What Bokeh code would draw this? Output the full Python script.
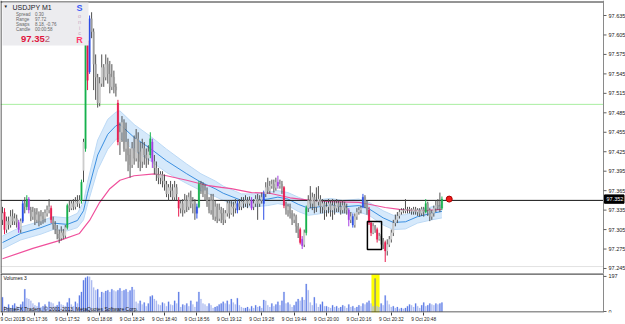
from bokeh.plotting import figure
from bokeh.models import (Range1d, FixedTicker, BoxAnnotation, Label,
                          ColumnDataSource, AllLabels)
from bokeh.core.properties import value
from bokeh.layouts import column
from bokeh.embed import file_html
from bokeh.resources import INLINE

# ---------------- data (prices in points above 97.000) ----------------
SYMBOL = "USDJPY"
TIMEFRAME = "M1"
BASE = 97.0
info_rows = [("Spread", "0.30"), ("Range", "97.72"), ("Swaps", "8.18, -0.76"), ("Candle", "00:00:58")]

open_pts = [
    320, 332, 305, 318, 312, 325, 318, 322, 316, 305,
    318, 345, 340, 352, 335, 325, 332, 320, 328, 318,
    325, 322, 330, 335, 338, 320, 312, 306, 298, 292,
    300, 296, 308, 342, 338, 345, 340, 348, 345, 350,
    396, 430, 596, 548, 630, 610, 560, 540, 500, 530,
    555, 540, 560, 545, 525, 540, 525, 500, 440, 455,
    470, 430, 440, 420, 405, 430, 415, 445, 425, 410,
    430, 420, 415, 420, 440, 410, 400, 390, 385, 390,
    380, 375, 360, 370, 365, 355, 370, 350, 338, 345,
    335, 350, 340, 355, 345, 348, 330, 340, 375, 370,
    360, 365, 345, 335, 350, 325, 340, 322, 335, 330,
    320, 330, 345, 330, 340, 338, 335, 345, 340, 348,
    345, 350, 345, 350, 340, 345, 352, 345, 350, 345,
    360, 370, 365, 372, 375, 370, 378, 372, 375, 370,
    342, 335, 340, 330, 320, 325, 310, 305, 290, 282,
    300, 338, 350, 345, 355, 340, 348, 352, 340, 345,
    335, 340, 345, 335, 342, 338, 345, 340, 335, 342,
    338, 335, 320, 325, 312, 325, 332, 335, 340, 355,
    345, 335, 315, 300, 310, 305, 290, 295, 288, 285,
    272, 282, 290, 300, 315, 320, 326, 332, 335, 334,
    336, 335, 336, 333, 336, 332, 335, 330, 336, 332,
    345, 335, 325, 330, 338, 342, 340, 338]
high_pts = [
    340, 338, 325, 325, 335, 336, 330, 328, 320, 322,
    350, 355, 358, 355, 340, 340, 338, 338, 333, 335,
    332, 336, 342, 352, 342, 325, 318, 312, 305, 310,
    306, 312, 345, 350, 350, 352, 355, 358, 358, 382,
    445, 600, 625, 635, 640, 615, 575, 545, 540, 575,
    560, 575, 570, 565, 560, 550, 530, 505, 470, 480,
    475, 470, 445, 430, 440, 450, 460, 455, 440, 445,
    440, 430, 435, 455, 445, 420, 410, 400, 395, 395,
    390, 380, 375, 380, 375, 380, 375, 355, 350, 352,
    360, 358, 362, 365, 355, 352, 345, 380, 380, 378,
    375, 370, 355, 360, 360, 350, 345, 345, 340, 338,
    335, 350, 350, 350, 348, 352, 350, 352, 355, 355,
    358, 355, 356, 355, 352, 358, 360, 358, 362, 365,
    378, 385, 380, 382, 382, 385, 388, 382, 380, 372,
    348, 345, 345, 335, 330, 328, 315, 308, 295, 305,
    342, 358, 372, 362, 360, 370, 372, 358, 352, 350,
    348, 352, 350, 352, 350, 352, 350, 348, 350, 348,
    345, 338, 332, 330, 330, 338, 340, 342, 360, 358,
    350, 340, 318, 315, 312, 308, 300, 298, 292, 288,
    290, 295, 305, 320, 328, 332, 336, 338, 338, 352,
    340, 340, 338, 340, 340, 338, 338, 340, 340, 352,
    348, 338, 335, 342, 350, 352, 362, 356]
low_pts = [
    312, 298, 300, 305, 308, 312, 312, 308, 300, 300,
    315, 330, 335, 330, 318, 320, 312, 315, 310, 312,
    314, 316, 325, 330, 315, 305, 298, 290, 284, 288,
    290, 292, 305, 332, 335, 335, 336, 340, 338, 345,
    378, 425, 520, 545, 600, 520, 505, 493, 495, 525,
    525, 535, 530, 515, 520, 515, 510, 435, 420, 440,
    425, 410, 395, 385, 400, 405, 410, 400, 395, 400,
    405, 400, 405, 415, 400, 390, 380, 375, 375, 370,
    365, 355, 350, 355, 350, 350, 350, 325, 330, 325,
    330, 332, 335, 338, 330, 320, 322, 338, 360, 355,
    350, 340, 330, 328, 320, 318, 315, 318, 315, 312,
    315, 325, 322, 328, 325, 330, 330, 335, 335, 338,
    340, 338, 342, 335, 335, 340, 320, 340, 345, 320,
    355, 360, 360, 368, 362, 365, 368, 368, 360, 338,
    328, 325, 322, 312, 315, 300, 292, 282, 275, 278,
    296, 332, 338, 335, 330, 332, 342, 330, 330, 320,
    325, 330, 325, 320, 328, 332, 332, 328, 330, 330,
    328, 310, 315, 308, 308, 320, 328, 330, 338, 338,
    328, 312, 295, 298, 300, 285, 288, 282, 275, 255,
    265, 278, 285, 295, 310, 315, 322, 328, 330, 330,
    330, 330, 328, 328, 328, 326, 325, 326, 325, 330,
    326, 318, 320, 325, 332, 335, 332, 335]
close_pts = [
    330, 305, 318, 312, 325, 318, 322, 316, 305, 318,
    345, 340, 352, 335, 325, 332, 320, 328, 318, 325,
    322, 330, 335, 340, 320, 312, 306, 298, 292, 300,
    296, 308, 342, 338, 345, 340, 348, 345, 350, 378,
    440, 590, 535, 630, 610, 560, 540, 500, 530, 555,
    540, 560, 545, 525, 540, 525, 520, 440, 455, 470,
    430, 440, 420, 405, 430, 415, 445, 425, 410, 430,
    420, 415, 425, 445, 410, 400, 390, 385, 390, 380,
    375, 360, 370, 365, 355, 370, 360, 338, 345, 335,
    350, 340, 355, 345, 348, 330, 340, 375, 370, 360,
    365, 345, 335, 350, 325, 340, 322, 335, 330, 320,
    330, 345, 330, 340, 338, 345, 345, 340, 348, 345,
    350, 345, 350, 338, 345, 352, 345, 350, 355, 360,
    370, 365, 372, 375, 370, 378, 372, 375, 370, 342,
    335, 340, 330, 320, 325, 310, 300, 285, 280, 300,
    338, 350, 345, 355, 340, 348, 352, 340, 345, 335,
    340, 345, 335, 342, 338, 345, 340, 335, 342, 338,
    335, 320, 325, 312, 325, 332, 335, 338, 355, 345,
    335, 315, 300, 310, 305, 290, 295, 288, 282, 272,
    282, 290, 300, 315, 320, 326, 332, 335, 334, 336,
    335, 336, 333, 336, 332, 335, 330, 336, 332, 345,
    335, 325, 330, 338, 342, 340, 338, 352]
volume = [
    80, 30, 25, 40, 20, 35, 45, 30, 25, 40,
    55, 125, 75, 70, 60, 45, 35, 30, 50, 25,
    30, 40, 25, 55, 50, 45, 30, 35, 55, 40,
    35, 30, 50, 75, 40, 30, 55, 45, 90, 110,
    175, 190, 197, 195, 175, 135, 120, 125, 80, 110,
    105, 115, 120, 110, 125, 118, 112, 120, 130, 115,
    120, 125, 110, 118, 137, 122, 55, 45, 60, 40,
    50, 30, 45, 85, 90, 70, 60, 40, 35, 50,
    45, 30, 55, 40, 35, 60, 45, 110, 25, 40,
    35, 45, 30, 60, 40, 25, 55, 110, 70, 45,
    40, 30, 45, 35, 20, 25, 30, 40, 45, 55,
    45, 60, 40, 70, 50, 40, 75, 35, 25, 20,
    20, 25, 15, 30, 20, 35, 25, 30, 20, 65,
    60, 35, 25, 45, 30, 40, 55, 35, 60, 110,
    45, 50, 40, 25, 35, 55, 70, 60, 80, 65,
    155, 120, 50, 35, 80, 45, 25, 40, 55, 30,
    30, 25, 20, 35, 25, 30, 20, 25, 35, 30,
    20, 40, 25, 30, 20, 25, 35, 30, 45, 40,
    50, 60, 45, 30, 185, 30, 25, 45, 35, 90,
    60, 40, 25, 30, 20, 25, 15, 20, 15, 20,
    30, 40, 35, 25, 45, 30, 20, 35, 50, 30,
    35, 45, 40, 35, 45, 40, 45, 50]

# Sonic R (PVA) candle classes: cu climax bull, cb climax bear, ru rising bull, rb rising bear
pva_class = {1: "cb", 8: "rb", 10: "ru", 12: "cu", 13: "rb", 24: "cb", 32: "cu", 39: "cu",
             41: "cu", 42: "cb", 43: "ru", 57: "cb", 73: "cu", 74: "rb", 87: "cb", 96: "ru",
             97: "cu", 116: "ru", 123: "rb", 129: "ru", 136: "rb", 139: "cb", 147: "cb",
             148: "rb", 150: "cu", 171: "rb", 173: "ru", 178: "ru", 181: "cb", 182: "cb",
             185: "cb", 189: "cb", 209: "cu", 217: "cu"}

ma_bars = [0, 9, 19, 25, 32, 37, 40, 42, 47, 52, 56, 58, 65, 73, 81, 91, 98, 105, 109,
           118, 124, 131, 136, 141, 146, 151, 156, 162, 168, 176, 181, 188, 193, 199, 205, 212, 217]
ma_mid_pts = [285, 299, 308, 315, 313, 319, 334, 361, 420, 452, 465, 467, 447, 430, 411, 391, 378, 368, 361,
              350, 350, 352, 355, 352, 344, 338, 340, 343, 340, 342, 337, 323, 316, 317, 325, 330, 333]
ma_half_pts = [10, 10, 10, 10, 10, 11, 14, 17, 23, 23, 21, 21, 20, 19, 18, 15, 13, 12, 11,
               10, 10, 10, 10, 10, 11, 11, 11, 10, 10, 10, 10, 11, 11, 11, 10, 10, 10]
slow_bars = [0, 15, 28, 38, 43, 48, 53, 58, 65, 75, 81, 91, 101, 108, 113, 123, 132, 142,
             152, 162, 176, 181, 189, 196, 206, 217]
slow_pts = [260, 276, 288, 299, 319, 347, 368, 381, 388, 391, 388, 381, 373, 370, 368, 362, 361, 354,
            350, 348, 347, 344, 339, 336, 334, 336]

h_levels = {"green": 97.498, "black": 97.350, "grey": 97.248}
rect_bars = (180.2, 187.2)
rect_prices = (97.2743, 97.3174)
vol_highlight_bars = (182.2, 186.2)

price_ticks = [97.245, 97.275, 97.305, 97.335, 97.365, 97.395, 97.425, 97.455,
               97.485, 97.515, 97.545, 97.575, 97.605, 97.635]
vol_ticks = [0, 197]
time_ticks = [0, 16, 32, 48, 64, 80, 96, 112, 128, 144, 160, 176, 192, 208]
time_labels = ["9 Oct 2013", "9 Oct 17:36", "9 Oct 17:52", "9 Oct 18:08", "9 Oct 18:24",
               "9 Oct 18:40", "9 Oct 18:56", "9 Oct 19:12", "9 Oct 19:28", "9 Oct 19:44",
               "9 Oct 20:00", "9 Oct 20:16", "9 Oct 20:32", "9 Oct 20:48"]

# ---------------- layout helpers (screen pixel <-> data) ----------------
PX0, PX_BAR = 2.0, 2.025           # x pixel of bar 0, pixels per bar
PY_REF, P_REF, PX_PER_PRICE = 15.0, 97.635, 648.7
SCALE_X = 603                      # pixel x of the price-scale line
VOL_PX = 36.0 / 197.0              # px per volume unit (0 at y=312, 197 at y=276)


def bx(px):
    return (px - PX0) / PX_BAR


def py(ypx):
    return P_REF - (ypx - PY_REF) / PX_PER_PRICE


def vy(ypx):
    return (312.0 - ypx) / VOL_PX


FONT = "Liberation Sans"
n = len(close_pts)
o = [BASE + v / 1000 for v in open_pts]
h = [BASE + v / 1000 for v in high_pts]
l = [BASE + v / 1000 for v in low_pts]
c = [BASE + v / 1000 for v in close_pts]
xs = list(range(n))

pva_colors = {"cu": "#17b24e", "cb": "#e8184c", "ru": "#2c4ee6", "rb": "#a53fe4"}
body_col, wick_col = [], []
for i in range(n):
    k = pva_class.get(i)
    if k:
        body_col.append(pva_colors[k])
        wick_col.append(pva_colors[k])
    else:
        body_col.append("#cccccc" if c[i] >= o[i] else "#9c9c9c")
        wick_col.append("#505050")

src = ColumnDataSource(dict(x=xs, o=o, h=h, l=l, c=c,
                            top=[max(a, b) for a, b in zip(o, c)],
                            bot=[min(a, b) for a, b in zip(o, c)],
                            bc=body_col, wc=wick_col))

xr = Range1d(bx(0), bx(625))
X_L, X_R = bx(0), bx(SCALE_X)

# ---------------- main price pane ----------------
p = figure(width=625, height=273, x_range=xr, y_range=Range1d(py(273), py(0)),
           output_backend="svg", toolbar_location=None, x_axis_location=None,
           y_axis_location=None, min_border_left=0, min_border_right=0,
           min_border_top=0, min_border_bottom=0)
p.grid.visible = False
p.outline_line_color = None
p.background_fill_color = "white"
p.border_fill_color = "white"

# horizontal levels
p.segment(x0=[X_L, X_L], x1=[X_R, X_R], y0=[h_levels["grey"], h_levels["green"]],
          y1=[h_levels["grey"], h_levels["green"]], line_color=["#e2e2e2", "#a8eea0"], line_width=1)

mid = [BASE + v / 1000 for v in ma_mid_pts]
up = [BASE + (v + w) / 1000 for v, w in zip(ma_mid_pts, ma_half_pts)]
lo = [BASE + (v - w) / 1000 for v, w in zip(ma_mid_pts, ma_half_pts)]
p.varea(x=ma_bars, y1=lo, y2=up, fill_color="#d6e9fb", fill_alpha=1.0)
p.line(ma_bars, up, line_color="#bcd9f5", line_width=1)
p.line(ma_bars, lo, line_color="#bcd9f5", line_width=1)
p.line(ma_bars, mid, line_color="#3b8fe0", line_width=1)
p.line(slow_bars, [BASE + v / 1000 for v in slow_pts], line_color="#f0509c", line_width=1.2)

p.segment(x0=[X_L], x1=[X_R], y0=[h_levels["black"]], y1=[h_levels["black"]],
          line_color="#111111", line_width=1)

p.segment(x0="x", y0="l", x1="x", y1="h", source=src, line_color="wc", line_width=1)
p.vbar(x="x", top="top", bottom="bot", width=0.75, source=src, fill_color="bc",
       line_color="bc", line_width=0.3)

p.add_layout(BoxAnnotation(left=rect_bars[0], right=rect_bars[1], bottom=rect_prices[0],
                           top=rect_prices[1], fill_alpha=0, line_color="#000000",
                           line_alpha=1.0, line_width=1.5))
p.scatter(x=[n - 1 + 3.6], y=[c[-1]], size=6, fill_color="#ee1c1c", line_color="#b00000")

# pane borders (top, left) and price scale
p.segment(x0=[X_L, bx(0.5)], x1=[X_R, bx(0.5)], y0=[py(1.5), py(0)], y1=[py(1.5), py(273)],
          line_color="#2a2a2a", line_width=1)
p.segment(x0=[X_R], x1=[X_R], y0=[py(0)], y1=[py(273)], line_color="#8a8a8a", line_width=1)
p.segment(x0=[X_R] * len(price_ticks), x1=[bx(SCALE_X + 3)] * len(price_ticks),
          y0=price_ticks, y1=price_ticks, line_color="#606060", line_width=1)
p.text(x=[bx(SCALE_X + 5)] * len(price_ticks), y=price_ticks,
       text=[f"{t:.3f}" for t in price_ticks], text_font=value(FONT),
       text_font_size="5.5px", text_color="#222222", text_baseline="middle", text_align="left")

price_txt = f"{c[-1]:.3f}"
p.quad(left=[bx(SCALE_X + 1)], right=[bx(623.5)], top=[c[-1] + 4.2 / PX_PER_PRICE],
       bottom=[c[-1] - 4.2 / PX_PER_PRICE], fill_color="#000000", line_color="#000000")
p.text(x=[bx(SCALE_X + 3)], y=[c[-1]], text=[price_txt], text_font=value(FONT),
       text_font_size="5.5px", text_color="#ffffff", text_baseline="middle", text_align="left")

# info panel
p.add_layout(BoxAnnotation(left=bx(2), right=bx(88), top=py(2), bottom=py(45),
                           fill_color="#ececef", fill_alpha=1, line_alpha=0))


def lab(px, ypx, text, size, color, style="normal", align="left"):
    p.add_layout(Label(x=bx(px), y=py(ypx), text=text, text_font=FONT,
                       text_font_size=size, text_color=color, text_font_style=style,
                       text_baseline="middle", text_align=align))


lab(3, 6, "\u25bc", "4.5px", "#222222")
lab(12, 6.5, f"{SYMBOL}  {TIMEFRAME}", "7px", "#1a1a2a")
for k, (name, val) in enumerate(info_rows):
    lab(15.5, 13.5 + 5.2 * k, name, "4.5px", "#666666")
    lab(34.5, 13.5 + 5.2 * k, val, "4.5px", "#666666")
lab(20.5, 38.5, price_txt[:-1], "9.5px", "#e0143c", "bold")
lab(44.3, 38.5, price_txt[-1], "9.5px", "#b06070")
lab(79, 7, "S", "9px", "#3f5cf6", "bold", "center")
for ch, yy in (("o", 15.5), ("n", 21.5), ("i", 27), ("c", 32.5)):
    lab(79, yy, ch, "5.5px", "#c8a6c4", "normal", "center")
lab(79, 39, "R", "9px", "#ff3c70", "bold", "center")

# ---------------- volume pane ----------------
pv = figure(width=625, height=51, x_range=xr, y_range=Range1d(vy(313), vy(273)),
            output_backend="svg", toolbar_location=None, y_axis_location=None,
            min_border_left=0, min_border_right=0, min_border_top=0, min_border_bottom=11)
pv.grid.visible = False
pv.outline_line_color = None
pv.background_fill_color = "white"
pv.border_fill_color = "white"

pv.add_layout(BoxAnnotation(left=vol_highlight_bars[0], right=vol_highlight_bars[1],
                            top=vy(273.5), bottom=vy(313), fill_color="#ffff00",
                            fill_alpha=1, line_alpha=0, level="underlay"))
vcol = ["#5f7de8" if (i == 0 or volume[i] >= volume[i - 1]) else "#aebcf2" for i in range(n)]
vcol = ["#8a8a8a" if vol_highlight_bars[0] < i < vol_highlight_bars[1] and volume[i] > 150 else vc
        for i, vc in enumerate(vcol)]
pv.vbar(x=xs, top=volume, bottom=0, width=0.6, fill_color=vcol, line_color=vcol, line_width=0.2)

# pane borders and volume scale
pv.segment(x0=[X_L], x1=[X_R], y0=[vy(273)], y1=[vy(273)], line_color="#555555", line_width=2.5)
pv.segment(x0=[X_L, bx(0.5)], x1=[X_R, bx(0.5)], y0=[vy(312.5), vy(273)], y1=[vy(312.5), vy(313)],
           line_color="#2a2a2a", line_width=1)
pv.segment(x0=[X_R], x1=[X_R], y0=[vy(272)], y1=[vy(313)], line_color="#8a8a8a", line_width=1)
pv.segment(x0=[X_R] * 2, x1=[bx(SCALE_X + 3)] * 2, y0=vol_ticks, y1=vol_ticks,
           line_color="#606060", line_width=1)
pv.text(x=[bx(SCALE_X + 5)] * 2, y=vol_ticks, text=[str(t) for t in vol_ticks],
        text_font=value(FONT), text_font_size="5.5px", text_color="#222222",
        text_baseline="middle", text_align="left")

vx = pv.xaxis[0]
vx.ticker = FixedTicker(ticks=time_ticks)
vx.major_label_overrides = {t: s for t, s in zip(time_ticks, time_labels)}
vx.major_label_policy = AllLabels()
vx.major_label_text_font = FONT
vx.major_label_text_font_size = "4.8px"
vx.major_label_text_color = "#222222"
vx.major_label_text_align = "left"
vx.major_tick_out = 3
vx.major_tick_in = 0
vx.minor_tick_out = 0
vx.minor_tick_in = 0
vx.major_label_standoff = 1
vx.axis_line_color = None
vx.major_tick_line_color = "#444444"

pv.add_layout(Label(x=bx(3), y=vy(278), text="Volumes 3", text_font=FONT,
                    text_font_size="5px", text_color="#111111", text_baseline="middle"))
pv.add_layout(Label(x=bx(3), y=vy(309.5),
                    text="PrimeFX Traders, \u00a9 2001-2013, MetaQuotes Software Corp.",
                    text_font=FONT, text_font_size="5px", text_color="#111111",
                    text_baseline="middle"))

layout = column(p, pv, spacing=0)
open("out.html", "w").write(file_html(layout, INLINE))
